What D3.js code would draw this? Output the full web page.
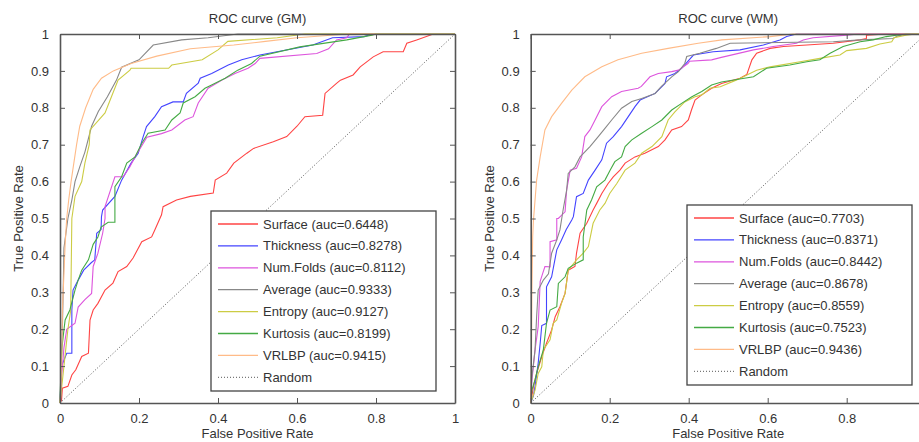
<!DOCTYPE html>
<html>
<head>
<meta charset="utf-8">
<script src="https://cdn.jsdelivr.net/npm/d3@7/dist/d3.min.js"></script>
<style>
  body { margin: 0; background: #fff; }
  svg text { font-family: "Liberation Sans", Arial, sans-serif; fill: #333; }
</style>
</head>
<body>
<div id="chart"></div>
<script>
var svgWidth = 919;
var svgHeight = 442;

// series names, colours and auc values (GM panel, WM panel)
var seriesNames = ["Surface", "Thickness", "Num.Folds", "Average", "Entropy", "Kurtosis", "VRLBP"];
var seriesColors = ["#ff4444", "#4444ff", "#dd55dd", "#888888", "#cccc44", "#44aa44", "#ffbb88"];
var gmAuc = ["0.6448", "0.8278", "0.8112", "0.9333", "0.9127", "0.8199", "0.9415"];
var wmAuc = ["0.7703", "0.8371", "0.8442", "0.8678", "0.8559", "0.7523", "0.9436"];
var xTicks = [0, 0.2, 0.4, 0.6, 0.8, 1];
var yTicks = [0, 0.1, 0.2, 0.3, 0.4, 0.5, 0.6, 0.7, 0.8, 0.9, 1];

// GM curves, [false positive rate, true positive rate]
var gmSurface = [[0,0],[0.004,0.008],[0.006,0.04],[0.02,0.045],[0.03,0.076],[0.04,0.09],[0.055,0.126],[0.072,0.135],[0.076,0.225],[0.084,0.252],[0.096,0.27],[0.114,0.306],[0.134,0.325],[0.147,0.356],[0.169,0.37],[0.185,0.393],[0.207,0.437],[0.232,0.45],[0.24,0.469],[0.257,0.51],[0.261,0.532],[0.295,0.55],[0.33,0.56],[0.388,0.569],[0.393,0.604],[0.422,0.623],[0.44,0.65],[0.473,0.677],[0.49,0.69],[0.54,0.708],[0.574,0.722],[0.6,0.75],[0.62,0.776],[0.665,0.78],[0.671,0.839],[0.7,0.866],[0.71,0.875],[0.742,0.889],[0.76,0.911],[0.793,0.938],[0.818,0.952],[0.869,0.952],[0.878,0.975],[0.903,0.984],[0.945,1],[1,1]];
var gmThickness = [[0,0],[0.002,0.05],[0.004,0.1],[0.017,0.135],[0.03,0.135],[0.03,0.252],[0.033,0.306],[0.046,0.333],[0.06,0.36],[0.079,0.38],[0.088,0.388],[0.093,0.46],[0.104,0.47],[0.105,0.505],[0.108,0.523],[0.139,0.56],[0.156,0.604],[0.18,0.65],[0.198,0.677],[0.21,0.72],[0.219,0.749],[0.24,0.776],[0.257,0.803],[0.286,0.816],[0.312,0.816],[0.32,0.839],[0.35,0.867],[0.355,0.88],[0.384,0.893],[0.426,0.916],[0.46,0.93],[0.506,0.943],[0.64,0.97],[0.69,0.99],[0.77,0.993],[0.79,1],[1,1]];
var gmNumFolds = [[0,0],[0.004,0.07],[0.01,0.15],[0.017,0.2],[0.038,0.216],[0.046,0.26],[0.063,0.28],[0.08,0.297],[0.084,0.37],[0.096,0.406],[0.108,0.46],[0.114,0.5],[0.114,0.532],[0.139,0.613],[0.16,0.613],[0.177,0.64],[0.19,0.667],[0.22,0.72],[0.257,0.73],[0.283,0.74],[0.316,0.767],[0.337,0.776],[0.35,0.813],[0.375,0.853],[0.41,0.875],[0.443,0.893],[0.476,0.907],[0.494,0.92],[0.506,0.934],[0.65,0.947],[0.68,0.96],[0.7,0.984],[0.726,0.99],[0.733,1],[1,1]];
var gmAverage = [[0,0],[0.003,0.1],[0.006,0.2],[0.008,0.3],[0.01,0.42],[0.02,0.5],[0.03,0.55],[0.038,0.6],[0.05,0.64],[0.063,0.68],[0.08,0.75],[0.097,0.79],[0.12,0.83],[0.143,0.875],[0.156,0.91],[0.2,0.93],[0.236,0.97],[0.308,0.984],[0.375,0.99],[0.45,1],[1,1]];
var gmEntropy = [[0,0],[0.005,0.05],[0.01,0.1],[0.015,0.15],[0.02,0.2],[0.027,0.25],[0.03,0.5],[0.038,0.56],[0.055,0.6],[0.063,0.65],[0.074,0.7],[0.076,0.74],[0.114,0.786],[0.134,0.84],[0.147,0.875],[0.177,0.902],[0.18,0.907],[0.275,0.907],[0.283,0.916],[0.36,0.93],[0.4,0.957],[0.425,0.98],[0.55,0.99],[0.62,1],[1,1]];
var gmKurtosis = [[0,0],[0.002,0.08],[0.005,0.15],[0.008,0.18],[0.013,0.225],[0.025,0.252],[0.038,0.306],[0.046,0.333],[0.055,0.36],[0.072,0.388],[0.084,0.43],[0.096,0.45],[0.104,0.477],[0.122,0.49],[0.139,0.49],[0.139,0.586],[0.156,0.613],[0.169,0.65],[0.19,0.667],[0.207,0.704],[0.223,0.731],[0.266,0.74],[0.283,0.767],[0.304,0.786],[0.312,0.813],[0.342,0.83],[0.367,0.853],[0.38,0.86],[0.418,0.88],[0.45,0.902],[0.485,0.92],[0.506,0.94],[0.607,0.965],[0.726,0.984],[0.79,0.997],[0.8,1],[1,1]];
var gmVrlbp = [[0,0],[0.003,0.05],[0.005,0.15],[0.006,0.25],[0.01,0.35],[0.013,0.43],[0.017,0.5],[0.022,0.55],[0.028,0.6],[0.035,0.65],[0.042,0.7],[0.05,0.75],[0.065,0.8],[0.084,0.85],[0.105,0.88],[0.135,0.9],[0.18,0.92],[0.245,0.94],[0.33,0.96],[0.44,0.97],[0.52,0.98],[0.6,0.99],[0.73,1],[1,1]];

// WM curves
var wmSurface = [[0,0],[0.007,0.045],[0.015,0.08],[0.028,0.126],[0.04,0.162],[0.053,0.198],[0.062,0.234],[0.074,0.261],[0.087,0.297],[0.095,0.36],[0.112,0.37],[0.116,0.406],[0.125,0.46],[0.142,0.487],[0.158,0.523],[0.167,0.541],[0.18,0.568],[0.196,0.595],[0.209,0.613],[0.226,0.631],[0.239,0.65],[0.264,0.667],[0.289,0.677],[0.323,0.695],[0.34,0.713],[0.357,0.74],[0.382,0.749],[0.399,0.767],[0.407,0.794],[0.416,0.821],[0.433,0.835],[0.458,0.853],[0.483,0.866],[0.53,0.88],[0.547,0.89],[0.56,0.93],[0.572,0.948],[0.606,0.961],[0.64,0.966],[0.699,0.97],[0.766,0.975],[0.834,0.984],[0.85,0.988],[0.85,0.997],[0.9,1],[1,1]];
var wmThickness = [[0,0],[0.007,0.02],[0.011,0.045],[0.019,0.108],[0.024,0.162],[0.028,0.21],[0.04,0.216],[0.04,0.315],[0.053,0.342],[0.066,0.415],[0.078,0.442],[0.09,0.47],[0.104,0.496],[0.108,0.505],[0.116,0.559],[0.133,0.568],[0.146,0.604],[0.163,0.631],[0.18,0.659],[0.192,0.704],[0.209,0.722],[0.23,0.749],[0.247,0.776],[0.264,0.803],[0.277,0.821],[0.315,0.839],[0.34,0.866],[0.344,0.884],[0.365,0.893],[0.382,0.907],[0.412,0.943],[0.462,0.952],[0.53,0.957],[0.589,0.97],[0.631,0.984],[0.648,0.993],[0.673,1],[1,1]];
var wmNumFolds = [[0,0],[0.003,0.06],[0.011,0.144],[0.019,0.207],[0.024,0.33],[0.03,0.35],[0.036,0.37],[0.049,0.369],[0.049,0.437],[0.066,0.442],[0.066,0.5],[0.07,0.5],[0.087,0.518],[0.091,0.577],[0.1,0.631],[0.116,0.636],[0.129,0.667],[0.137,0.722],[0.15,0.74],[0.163,0.767],[0.18,0.803],[0.205,0.83],[0.23,0.844],[0.272,0.853],[0.28,0.858],[0.302,0.884],[0.323,0.893],[0.357,0.898],[0.374,0.902],[0.398,0.92],[0.402,0.926],[0.458,0.93],[0.48,0.936],[0.564,0.957],[0.614,0.966],[0.673,0.975],[0.69,0.984],[0.715,0.99],[0.8,0.997],[0.83,1],[1,1]];
var wmAverage = [[0,0],[0.003,0.07],[0.011,0.144],[0.015,0.234],[0.019,0.306],[0.032,0.333],[0.045,0.35],[0.053,0.406],[0.066,0.442],[0.074,0.469],[0.082,0.523],[0.091,0.577],[0.095,0.622],[0.112,0.64],[0.125,0.667],[0.15,0.695],[0.171,0.722],[0.188,0.744],[0.205,0.767],[0.23,0.799],[0.256,0.817],[0.281,0.825],[0.315,0.839],[0.331,0.858],[0.357,0.884],[0.374,0.898],[0.39,0.92],[0.395,0.939],[0.428,0.948],[0.47,0.961],[0.505,0.975],[0.766,0.979],[0.834,0.984],[0.917,0.988],[0.93,0.995],[0.95,1],[1,1]];
var wmEntropy = [[0,0],[0.011,0.035],[0.019,0.08],[0.028,0.098],[0.032,0.144],[0.049,0.171],[0.057,0.216],[0.066,0.225],[0.078,0.27],[0.087,0.297],[0.095,0.36],[0.116,0.388],[0.133,0.406],[0.146,0.424],[0.158,0.487],[0.175,0.523],[0.188,0.541],[0.2,0.568],[0.218,0.595],[0.239,0.631],[0.264,0.65],[0.281,0.677],[0.307,0.695],[0.332,0.722],[0.348,0.767],[0.365,0.789],[0.39,0.816],[0.416,0.83],[0.433,0.835],[0.454,0.853],[0.48,0.857],[0.52,0.875],[0.572,0.902],[0.606,0.911],[0.682,0.925],[0.732,0.934],[0.783,0.943],[0.8,0.955],[0.85,0.961],[0.884,0.973],[0.914,0.979],[0.92,0.99],[0.95,0.997],[0.975,1],[1,1]];
var wmKurtosis = [[0,0],[0.003,0.035],[0.011,0.063],[0.019,0.098],[0.032,0.144],[0.04,0.216],[0.049,0.252],[0.066,0.261],[0.07,0.324],[0.087,0.342],[0.095,0.365],[0.116,0.379],[0.133,0.388],[0.133,0.45],[0.142,0.523],[0.154,0.55],[0.167,0.586],[0.188,0.604],[0.201,0.631],[0.213,0.654],[0.23,0.667],[0.239,0.695],[0.256,0.713],[0.281,0.731],[0.307,0.749],[0.332,0.767],[0.357,0.794],[0.382,0.812],[0.408,0.83],[0.433,0.844],[0.458,0.862],[0.483,0.87],[0.564,0.884],[0.597,0.907],[0.656,0.916],[0.699,0.925],[0.732,0.93],[0.758,0.948],[0.791,0.966],[0.834,0.979],[0.867,0.984],[0.9,0.993],[0.935,0.998],[0.95,1],[1,1]];
var wmVrlbp = [[0,0],[0.002,0.1],[0.003,0.3],[0.005,0.45],[0.007,0.496],[0.015,0.604],[0.024,0.667],[0.036,0.74],[0.053,0.776],[0.078,0.812],[0.104,0.848],[0.137,0.884],[0.18,0.911],[0.221,0.93],[0.281,0.948],[0.348,0.961],[0.424,0.975],[0.484,0.984],[0.606,0.993],[0.664,1],[1,1]];

var randomLine = [[0,0],[1,1]];

var svg = d3.select("#chart")
  .append("svg")
  .attr("width", svgWidth)
  .attr("height", svgHeight);

var plotW = 395;
var plotH = 369;

function drawPanel(left, top, title, curves, auc, legendX, legendY) {
  var g = svg.append("g")
    .attr("transform", `translate(${left}, ${top})`);

  var x = d3.scaleLinear().domain([0, 1]).range([0, plotW]);
  var y = d3.scaleLinear().domain([0, 1]).range([plotH, 0]);

  var line = d3.line()
    .x(d => x(d[0]))
    .y(d => y(d[1]));

  // random guess diagonal
  g.append("path")
    .datum(randomLine)
    .attr("d", line)
    .attr("fill", "none")
    .attr("stroke", "#444")
    .attr("stroke-width", 0.9)
    .attr("stroke-dasharray", "1,2");

  // roc curves
  curves.forEach(function(c, i) {
    g.append("path")
      .datum(c)
      .attr("d", line)
      .attr("fill", "none")
      .attr("stroke", seriesColors[i])
      .attr("stroke-width", 1.1);
  });

  // axes, ticks pointing inward
  var fmt = d3.format("");
  // x tick labels that fall outside the picture are not shown (as in the original)
  var xVisible = xTicks.filter(t => left + x(t) + 4 < svgWidth);
  g.append("g")
    .attr("transform", `translate(0, ${plotH})`)
    .call(d3.axisBottom(x).tickValues(xTicks).tickFormat(t => xVisible.includes(t) ? fmt(t) : "").tickSizeInner(-5).tickSizeOuter(0).tickPadding(11));
  g.append("g")
    .call(d3.axisLeft(y).tickValues(yTicks).tickFormat(fmt).tickSizeInner(-5).tickSizeOuter(0).tickPadding(11));
  g.append("g")
    .call(d3.axisTop(x).tickValues(xTicks).tickFormat("").tickSizeInner(-5).tickSizeOuter(0));
  g.append("g")
    .attr("transform", `translate(${plotW}, 0)`)
    .call(d3.axisRight(y).tickValues(yTicks).tickFormat("").tickSizeInner(-5).tickSizeOuter(0));

  g.selectAll(".domain").attr("stroke", "#555").attr("stroke-width", 1.6);
  g.selectAll(".tick line").attr("stroke", "#555");
  g.selectAll(".tick text").attr("font-size", 13).attr("fill", "#333");

  // labels
  g.append("text")
    .attr("x", plotW / 2)
    .attr("y", -11)
    .attr("text-anchor", "middle")
    .attr("font-size", 13)
    .text(title);

  g.append("text")
    .attr("x", plotW / 2)
    .attr("y", plotH + 35)
    .attr("text-anchor", "middle")
    .attr("font-size", 13)
    .text("False Positive Rate");

  g.append("text")
    .attr("transform", `translate(-37, ${plotH / 2}) rotate(-90)`)
    .attr("text-anchor", "middle")
    .attr("font-size", 13)
    .text("True Positive Rate");

  // legend box
  var lg = svg.append("g")
    .attr("transform", `translate(${legendX}, ${legendY})`);
  lg.append("rect")
    .attr("width", 225)
    .attr("height", 180)
    .attr("fill", "#fff")
    .attr("stroke", "#444")
    .attr("stroke-width", 1.3);

  var items = seriesNames.map((n, i) => ({label: `${n} (auc=${auc[i]})`, color: seriesColors[i], dash: null}));
  items.push({label: "Random", color: "#444", dash: "1,2"});

  items.forEach(function(it, i) {
    var yy = 13 + i * 21.9;
    lg.append("line")
      .attr("x1", 7).attr("x2", 47)
      .attr("y1", yy).attr("y2", yy)
      .attr("stroke", it.color)
      .attr("stroke-width", it.dash ? 0.9 : 1.3)
      .attr("stroke-dasharray", it.dash);
    lg.append("text")
      .attr("x", 52)
      .attr("y", yy + 4.5)
      .attr("font-size", 13)
      .text(it.label);
  });
}

drawPanel(60, 34, "ROC curve (GM)",
  [gmSurface, gmThickness, gmNumFolds, gmAverage, gmEntropy, gmKurtosis, gmVrlbp],
  gmAuc, 211, 211);

drawPanel(530.7, 34, "ROC curve (WM)",
  [wmSurface, wmThickness, wmNumFolds, wmAverage, wmEntropy, wmKurtosis, wmVrlbp],
  wmAuc, 687, 205);
</script>
</body>
</html>
